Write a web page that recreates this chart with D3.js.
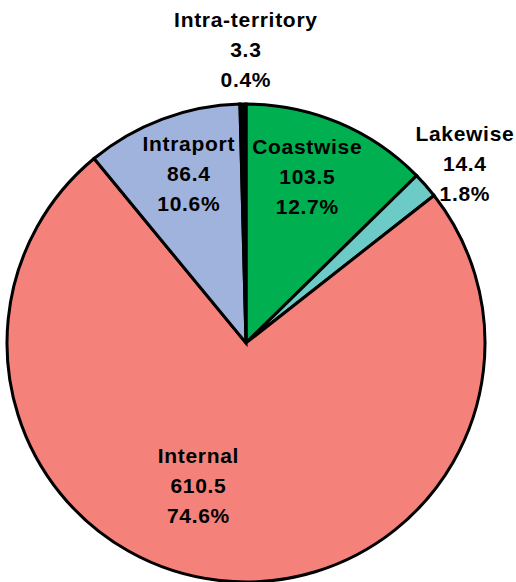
<!DOCTYPE html>
<html>
<head>
<meta charset="utf-8">
<script src="https://cdn.jsdelivr.net/npm/d3@7"></script>
<style>
  body { margin: 0; background: #fff; }
</style>
</head>
<body>
<div id="chart"></div>
<script>
var categories = ["Coastwise", "Lakewise", "Internal", "Intraport", "Intra-territory"];
var values = [103.5, 14.4, 610.5, 86.4, 3.3];
var percents = ["12.7%", "1.8%", "74.6%", "10.6%", "0.4%"];
var colors = ["#00B050", "#6CCBC6", "#F4827A", "#A0B3DC", "#000000"];

// label placement: distance from center and angle nudge (degrees)
var labelPlace = {
    "Coastwise": { r: 170.5, da: -1.7 },
    "Lakewise": { r: 278.5, da: 3.1 },
    "Internal": { r: 157.3, da: 11.4 },
    "Intraport": { r: 171.7, da: 1.0 },
    "Intra-territory": { r: 286, da: 0.7 }
};

var width = 516,
    height = 582,
    cx = 246,
    cy = 343,
    radius = 239;

var data = categories.map(function(c, i) {
    return { name: c, value: values[i], pct: percents[i], color: colors[i] };
});

var svg = d3.select("#chart")
    .append("svg")
    .attr("width", width)
    .attr("height", height);

var g = svg.append("g")
    .attr("transform", "translate(" + cx + "," + cy + ")");

var pie = d3.pie()
    .sort(null)
    .value(function(d) { return d.value; });

var arc = d3.arc()
    .innerRadius(0)
    .outerRadius(radius);

var arcs = pie(data);

g.selectAll(".slice")
    .data(arcs)
    .enter().append("path")
    .attr("class", "slice")
    .attr("d", arc)
    .attr("fill", function(d) { return d.data.color; })
    .attr("stroke", "#000")
    .attr("stroke-width", 3)
    .attr("stroke-linejoin", "miter");

var labels = g.selectAll(".lbl")
    .data(arcs)
    .enter().append("text")
    .attr("class", "lbl")
    .attr("text-anchor", "middle")
    .attr("font-family", "'Liberation Sans', Arial, sans-serif")
    .attr("font-weight", "bold")
    .attr("font-size", 21)
    .attr("letter-spacing", 0.7)
    .attr("fill", "#000")
    .attr("transform", function(d) {
        var p = labelPlace[d.data.name];
        var a = (d.startAngle + d.endAngle) / 2 + p.da * Math.PI / 180;
        return "translate(" + (p.r * Math.sin(a)) + "," + (-p.r * Math.cos(a)) + ")";
    });

// three lines, the middle one sits on the anchor point
labels.each(function(d) {
    var t = d3.select(this);
    var lines = [d.data.name, d3.format(".1f")(d.data.value), d.data.pct];
    lines.forEach(function(s, i) {
        t.append("tspan")
            .attr("x", 0)
            .attr("y", (i - 1) * 30)
            .text(s);
    });
});
</script>
</body>
</html>
